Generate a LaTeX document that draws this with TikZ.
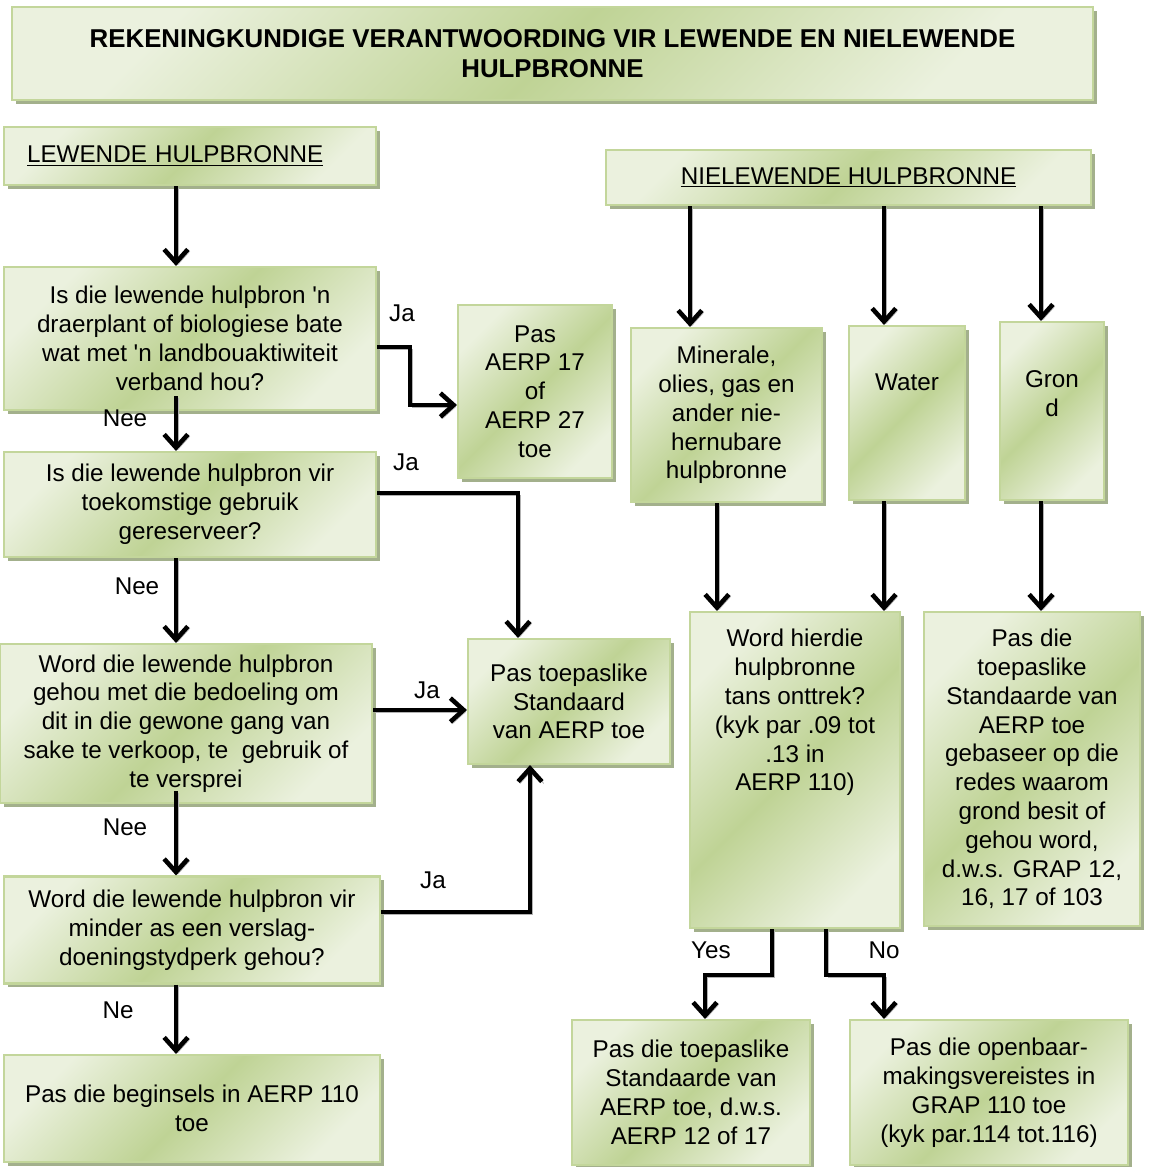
\documentclass[tikz,border=0pt]{standalone}
\usepackage{fontspec}
\setmainfont{Liberation Sans}
\usetikzlibrary{arrows.meta,shadows}

\definecolor{boxlite}{HTML}{EBF1DE}
\definecolor{boxdark}{HTML}{BFD395}
\definecolor{boxedge}{HTML}{C3D69B}
\definecolor{boxshadow}{HTML}{A3B08C}
\pgfdeclarehorizontalshading{leafshade}{100bp}{color(0bp)=(boxlite); color(25bp)=(boxlite); color(50bp)=(boxdark); color(75bp)=(boxlite); color(100bp)=(boxlite)}

\newcommand{\bodyfont}{\fontsize{13.8}{16.4}\selectfont}
\newcommand{\titlefont}{\fontsize{14.7}{17}\selectfont\bfseries}
\newcommand{\apo}{\textquotesingle}

\tikzset{
  box/.style={shade, shading=leafshade, shading angle=-45, draw=boxedge, line width=1.2pt,
    drop shadow={shadow xshift=2.2pt, shadow yshift=-2.2pt, fill=boxshadow, opacity=1},
    align=center, inner sep=2pt},
  conn/.style={->, line width=2.6pt,
    preaction={draw=black!30, transform canvas={xshift=1.1pt, yshift=-1.1pt}}},
}

\begin{document}
\begin{tikzpicture}[x=0.02cm, y=-0.02cm, >={Straight Barb[length=7.5pt,width=13.5pt]}, font=\bodyfont]
\useasboundingbox (0,0) rectangle (1149,1167);

% titel
\node[box, minimum width=21.62cm, minimum height=1.86cm, font=\titlefont] (titel) at (552.5,53.5)
  {REKENINGKUNDIGE VERANTWOORDING VIR LEWENDE EN NIELEWENDE\\HULPBRONNE};

% lewende hulpbronne
\node[box, minimum width=7.44cm, minimum height=1.16cm, text width=6.52cm, inner xsep=0.46cm, align=left] (lewend) at (190,156) {\underline{LEWENDE HULPBRONNE}};
\node[box, minimum width=7.44cm, minimum height=2.86cm] (vraag1) at (190,338.5) {Is die lewende hulpbron \apo n\\draerplant of biologiese bate\\wat met \apo n landbouaktiwiteit\\verband hou?};
\node[box, minimum width=3.08cm, minimum height=3.46cm] (aerp17) at (535,391.5) {Pas\\AERP 17\\of\\AERP 27\\toe};
\node[box, minimum width=7.44cm, minimum height=2.10cm] (vraag2) at (190,504.5) {Is die lewende hulpbron vir\\toekomstige gebruik\\gereserveer?};
\node[box, minimum width=7.44cm, minimum height=3.18cm] (vraag3) at (186,723.5) {Word die lewende hulpbron\\gehou met die bedoeling om\\dit in die gewone gang van\\sake te verkoop, te\ \ gebruik of\\te versprei};
\node[box, minimum width=4.04cm, minimum height=2.50cm] (toepas) at (569,701.5) {Pas toepaslike\\Standaard\\van AERP toe};
\node[box, minimum width=7.52cm, minimum height=2.14cm] (vraag4) at (192,930) {Word die lewende hulpbron vir\\minder as een verslag-\\doeningstydperk gehou?};
\node[box, minimum width=7.52cm, minimum height=2.14cm] (begin) at (192,1108.5) {Pas die beginsels in AERP 110\\toe};

% nielewende hulpbronne
\node[box, minimum width=9.70cm, minimum height=1.10cm] (nielewend) at (848.5,177.5) {\underline{NIELEWENDE HULPBRONNE}};
\node[box, minimum width=3.82cm, minimum height=3.48cm] (mineraal) at (726.5,415) {Minerale,\\olies, gas en\\ander nie-\\hernubare\\hulpbronne};
\node[box, minimum width=2.32cm, minimum height=3.48cm, text depth=1.24cm] (water) at (907,413) {Water};
\node[box, minimum width=2.08cm, minimum height=3.56cm, text depth=0.7cm] (grond) at (1052,411) {Gron\\d};
\node[box, minimum width=4.20cm, minimum height=6.32cm, text depth=2.4cm] (onttrek) at (795,770) {Word hierdie\\hulpbronne\\tans onttrek?\\(kyk par .09 tot\\.13 in\\AERP 110)};
\node[box, minimum width=4.32cm, minimum height=6.28cm] (grondstd) at (1032,769) {Pas die\\toepaslike\\Standaarde van\\AERP toe\\gebaseer op die\\redes waarom\\grond besit of\\gehou word,\\d.w.s. GRAP 12,\\16, 17 of 103};
\node[box, minimum width=4.76cm, minimum height=2.90cm] (ja12) at (691,1092.5) {Pas die toepaslike\\Standaarde van\\AERP toe, d.w.s.\\AERP 12 of 17};
\node[box, minimum width=5.56cm, minimum height=2.90cm] (openbaar) at (989,1092.5) {Pas die openbaar-\\makingsvereistes in\\GRAP 110 toe\\(kyk par.114 tot.116)};

% pyle links
\draw[conn] (lewend.south -| 176,0) -- (vraag1.north -| 176,0);
\draw[conn] (vraag1.south -| 176,0) ++(0,-15) -- (vraag2.north -| 176,0);
\draw[conn] (vraag1.east |- 0,347) -| (410,405) -- (aerp17.west |- 0,405);
\draw[conn] (vraag2.east |- 0,493) -| (toepas.north -| 518,0);
\draw[conn] (vraag2.south -| 176,0) -- (vraag3.north -| 176,0);
\draw[conn] (vraag3.east |- 0,710) -- (toepas.west |- 0,710);
\draw[conn] (vraag3.south -| 176,0) ++(0,-13) -- (vraag4.north -| 176,0);
\draw[conn] (vraag4.east |- 0,912) -| (toepas.south -| 530,0);
\draw[conn] (vraag4.south -| 176,0) -- (begin.north -| 176,0);

% pyle regs
\draw[conn] (nielewend.south -| 690,0) -- (mineraal.north -| 690,0);
\draw[conn] (nielewend.south -| 884,0) -- (water.north -| 884,0);
\draw[conn] (nielewend.south -| 1041,0) -- (grond.north -| 1041,0);
\draw[conn] (mineraal.south -| 717,0) -- (onttrek.north -| 717,0);
\draw[conn] (water.south -| 884,0) -- (onttrek.north -| 884,0);
\draw[conn] (grond.south -| 1041,0) -- (grondstd.north -| 1041,0);
\draw[conn] (onttrek.south -| 772,0) |- (705,975) -- (ja12.north -| 705,0);
\draw[conn] (onttrek.south -| 826,0) |- (884,975) -- (openbaar.north -| 884,0);

% byskrifte
\node (ja1) at (402,313) {Ja};
\node (nee1) at (125,418) {Nee};
\node (ja2) at (406,462) {Ja};
\node (nee2) at (137,586) {Nee};
\node (ja3) at (427,690) {Ja};
\node (nee3) at (125,827) {Nee};
\node (ja4) at (433,880) {Ja};
\node (nee4) at (118,1010) {Ne};
\node (yes) at (711,950) {Yes};
\node (no) at (884,950) {No};
\end{tikzpicture}
\end{document}
